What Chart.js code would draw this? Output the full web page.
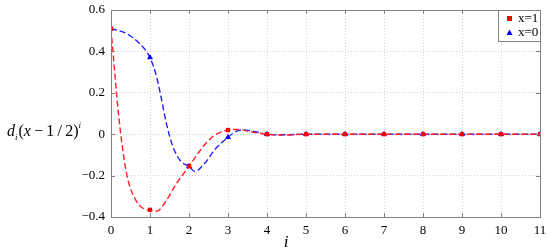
<!DOCTYPE html>
<html>
<head>
<meta charset="utf-8">
<script src="https://cdn.jsdelivr.net/npm/chart.js@4/dist/chart.umd.min.js"></script>
<style>
  html, body { margin: 0; padding: 0; background: #fff; }
  canvas { display: block; }
</style>
</head>
<body>
<canvas id="coefChart" width="550" height="252"></canvas>
<script>
// integer steps i and the marker values
var steps = [0, 1, 2, 3, 4, 5, 6, 7, 8, 9, 10, 11];
var redMarks = [0.51, -0.365, -0.155, 0.02, 0, 0, 0, 0, 0, 0, 0, 0];
var blueMarks = [0.51, 0.37, -0.155, -0.015, 0, 0, 0, 0, 0, 0, 0, 0];

// dashed curves (x=1 red, x=0 blue)
var redCurveI = [0, 0.05, 0.14, 0.25, 0.41, 0.64, 0.86, 1, 1.17, 1.42, 1.68, 2, 2.23, 2.45, 2.66, 3, 3.25, 3.6, 4, 4.4, 5, 6, 7, 8, 9, 10, 11];
var redCurve = [0.51, 0.4, 0.2, 0.0, -0.2, -0.32, -0.362, -0.367, -0.372, -0.32, -0.238, -0.155, -0.093, -0.04, -0.005, 0.02, 0.023, 0.011, 0, -0.004, 0, 0, 0, 0, 0, 0, 0];
var blueCurveI = [0, 0.39, 0.73, 1, 1.17, 1.3, 1.42, 1.59, 1.8, 2, 2.15, 2.4, 2.66, 3, 3.2, 3.4, 3.7, 4, 4.4, 5, 6, 7, 8, 9, 10, 11];
var blueCurve = [0.51, 0.487, 0.438, 0.37, 0.277, 0.164, 0.052, -0.061, -0.133, -0.155, -0.18, -0.142, -0.075, -0.015, 0.012, 0.021, 0.012, 0, -0.003, 0, 0, 0, 0, 0, 0, 0];

var yTicks = [-0.4, -0.2, 0, 0.2, 0.4, 0.6];
var legendNames = ['x=1', 'x=0'];

function pairs(xs, ys) {
  return xs.map(function(x, k) { return { x: x, y: ys[k] }; });
}

var serif = '"Liberation Serif", "Times New Roman", serif';

// frame, inward ticks, axis labels and legend box
var decor = {
  id: 'decor',
  afterDraw: function(chart) {
    var ctx = chart.ctx, a = chart.chartArea;
    var xs = chart.scales.x, ys = chart.scales.y;
    ctx.save();
    ctx.strokeStyle = '#7f7f7f';
    ctx.lineWidth = 1;
    ctx.strokeRect(Math.round(a.left) + 0.5, Math.round(a.top) + 0.5,
      Math.round(a.right - a.left), Math.round(a.bottom - a.top));
    ctx.beginPath();
    steps.forEach(function(s) {
      var px = Math.round(xs.getPixelForValue(s)) + 0.5;
      ctx.moveTo(px, a.bottom); ctx.lineTo(px, a.bottom - 4);
      ctx.moveTo(px, a.top); ctx.lineTo(px, a.top + 4);
    });
    yTicks.forEach(function(t) {
      var py = Math.round(ys.getPixelForValue(t)) + 0.5;
      ctx.moveTo(a.left, py); ctx.lineTo(a.left + 4, py);
      ctx.moveTo(a.right, py); ctx.lineTo(a.right - 4, py);
    });
    ctx.stroke();

    // y label  d_i(x - 1/2)^i
    ctx.fillStyle = '#000';
    ctx.textBaseline = 'alphabetic';
    ctx.textAlign = 'left';
    var x = 7, base = 136;
    function put(txt, font, dy) {
      ctx.font = font;
      ctx.fillText(txt, x, base + (dy || 0));
      x += ctx.measureText(txt).width;
    }
    put('d', 'italic 16px ' + serif);
    put('i', 'italic 9px ' + serif, 4);
    x += 1;
    put('(', '16px ' + serif);
    put('x', 'italic 16px ' + serif);
    put('\u2009\u2212\u20091\u2009/\u20092', '16px ' + serif);
    put(')', '16px ' + serif);
    put('i', 'italic 9px ' + serif, -8);

    // x label
    ctx.font = 'italic 17px ' + serif;
    ctx.textAlign = 'center';
    ctx.fillText('i', 286, 247);

    // legend
    var lx = Math.round(a.right) - 42, ly = Math.round(a.top);
    ctx.fillStyle = '#fff';
    ctx.fillRect(lx, ly, 42, 31);
    ctx.strokeStyle = '#7f7f7f';
    ctx.strokeRect(lx + 0.5, ly + 0.5, 42, 31);
    ctx.fillStyle = '#ff0000';
    ctx.fillRect(lx + 9, ly + 6, 5, 5);
    ctx.fillStyle = '#0000ff';
    ctx.beginPath();
    ctx.moveTo(lx + 11.5, ly + 19.5);
    ctx.lineTo(lx + 14.5, ly + 25);
    ctx.lineTo(lx + 8.5, ly + 25);
    ctx.closePath();
    ctx.fill();
    ctx.fillStyle = '#000';
    ctx.font = '13px ' + serif;
    ctx.textAlign = 'left';
    ctx.textBaseline = 'middle';
    ctx.fillText(legendNames[0], lx + 20, ly + 9);
    ctx.fillText(legendNames[1], lx + 20, ly + 23);
    ctx.restore();
  }
};

var ctx = document.getElementById('coefChart');
var chart = new Chart(ctx, {
  type: 'scatter',
  data: {
    datasets: [
      {
        label: legendNames[0],
        data: pairs(steps, redMarks),
        showLine: false,
        pointStyle: 'rect',
        pointRadius: 3,
        backgroundColor: '#ff0000',
        borderColor: '#ff0000',
        borderWidth: 0
      },
      {
        data: pairs(redCurveI, redCurve),
        showLine: true,
        pointRadius: 0,
        borderColor: '#ff2020',
        borderWidth: 1.4,
        borderDash: [6, 3],
        cubicInterpolationMode: 'monotone'
      },
      {
        label: legendNames[1],
        data: pairs(steps, blueMarks),
        showLine: false,
        pointStyle: 'triangle',
        pointRadius: 3.5,
        backgroundColor: '#0000ff',
        borderColor: '#0000ff',
        borderWidth: 0
      },
      {
        data: pairs(blueCurveI, blueCurve),
        showLine: true,
        pointRadius: 0,
        borderColor: '#2020ff',
        borderWidth: 1.4,
        borderDash: [6, 3],
        cubicInterpolationMode: 'monotone'
      }
    ]
  },
  options: {
    responsive: false,
    animation: false,
    devicePixelRatio: 1,
    layout: { padding: { top: 10, right: 10, left: 0, bottom: 0 } },
    plugins: { legend: { display: false }, tooltip: { enabled: false } },
    scales: {
      x: {
        type: 'linear',
        min: 0, max: 11,
        afterBuildTicks: function(scale) { scale.ticks = steps.map(function(v) { return { value: v }; }); },
        afterFit: function(scale) { scale.height = 35; scale.paddingLeft = 0; scale.paddingRight = 0; },
        grid: { color: '#d4d4d4', drawTicks: false, tickLength: 0 },
        border: { display: false, dash: [1, 2] },
        ticks: { color: '#000', font: { family: serif, size: 13 }, padding: 6, maxRotation: 0 }
      },
      y: {
        min: -0.4, max: 0.6,
        afterBuildTicks: function(scale) { scale.ticks = yTicks.map(function(v) { return { value: v }; }); },
        afterFit: function(scale) { scale.width = 111; scale.paddingTop = 0; scale.paddingBottom = 0; },
        grid: { color: '#d4d4d4', drawTicks: false, tickLength: 0 },
        border: { display: false, dash: [1, 2] },
        ticks: {
          color: '#000', font: { family: serif, size: 13 }, padding: 6,
          callback: function(v) { return v === 0 ? '0' : (v < 0 ? '\u2212' + Math.abs(v).toFixed(1) : v.toFixed(1)); }
        }
      }
    }
  },
  plugins: [decor]
});
</script>
</body>
</html>
